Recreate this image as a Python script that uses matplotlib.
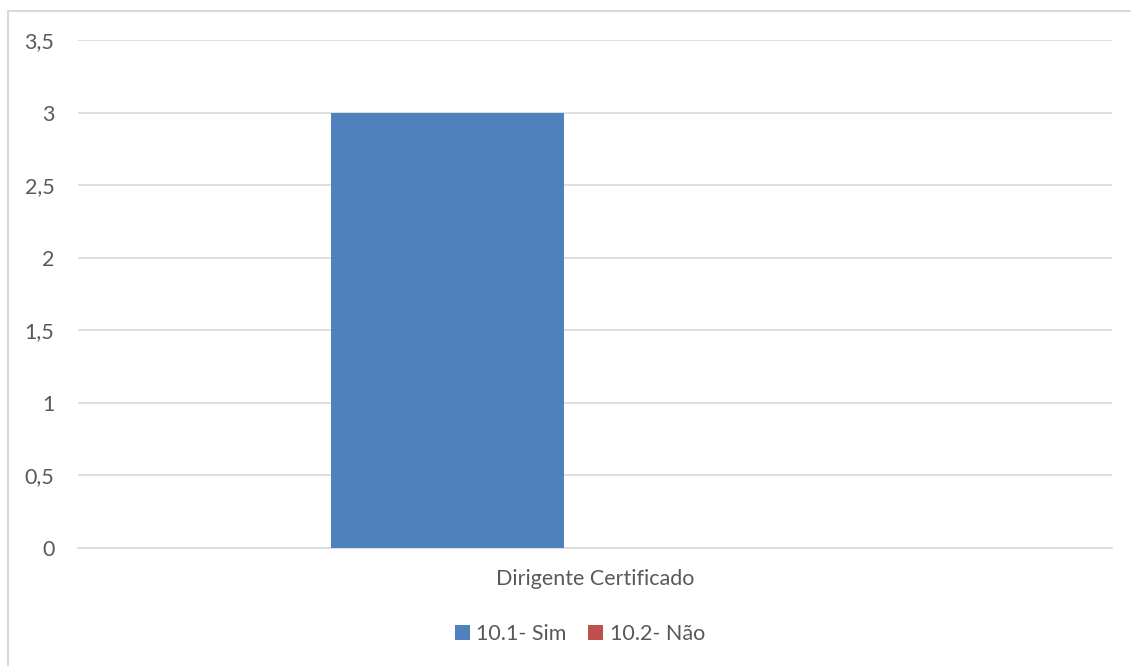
import matplotlib
matplotlib.use("Agg")
import matplotlib.pyplot as plt
from matplotlib.patches import Patch
from matplotlib.lines import Line2D

categories = ["Dirigente Certificado"]
series_names = ["10.1- Sim", "10.2- Não"]
series_values = [[3], [0]]
series_colors = ["#4F81BD", "#C0504D"]
y_ticks = [0, 0.5, 1, 1.5, 2, 2.5, 3, 3.5]
y_tick_labels = ["0", "0,5", "1", "1,5", "2", "2,5", "3", "3,5"]

plt.rcParams["font.family"] = ["Lato", "DejaVu Sans"]
text_color = "#595959"
fs = 15.5

fig = plt.figure(figsize=(11.31, 6.66), dpi=100)
ax = fig.add_axes([78 / 1131, 1 - 548 / 666, (1112 - 78) / 1131, (548 - 40) / 666])

bar_width = 0.2253
offsets = [-0.143, 0.143]
for name, vals, color, off in zip(series_names, series_values, series_colors, offsets):
    xs = [i + 0.5 + off for i in range(len(categories))]
    ax.bar(xs, vals, width=bar_width, color=color, label=name, zorder=3)

ax.set_xlim(0, len(categories))
ax.set_ylim(0, 3.5)
ax.set_yticks(y_ticks)
ax.set_yticklabels(y_tick_labels, fontsize=fs, color=text_color)
ax.set_xticks([i + 0.5 for i in range(len(categories))])
ax.set_xticklabels(categories, fontsize=fs, color=text_color)
ax.tick_params(axis="both", length=0)
ax.tick_params(axis="y", pad=17)
ax.tick_params(axis="x", pad=15)
ax.yaxis.grid(True, color="#D9D9D9", linewidth=1.2, zorder=0)
for s in ["top", "right", "left"]:
    ax.spines[s].set_visible(False)
ax.spines["bottom"].set_color("#D9D9D9")
ax.spines["bottom"].set_linewidth(1.2)

handles = [Patch(facecolor=c, edgecolor="none") for c in series_colors]
fig.legend(handles, series_names, loc="center", bbox_to_anchor=(580 / 1131, 1 - 634 / 666),
           ncol=2, frameon=False, fontsize=fs, labelcolor=text_color,
           handlelength=0.7, handleheight=0.7, handletextpad=0.3, columnspacing=1.0)

# chart frame
fig.add_artist(Line2D([8 / 1131, 1], [1 - 10.5 / 666] * 2, color="#D9D9D9", linewidth=1.5))
fig.add_artist(Line2D([8 / 1131] * 2, [0, 1 - 10.5 / 666], color="#D9D9D9", linewidth=1.5))

fig.savefig("out.png", dpi=100, facecolor="white")
